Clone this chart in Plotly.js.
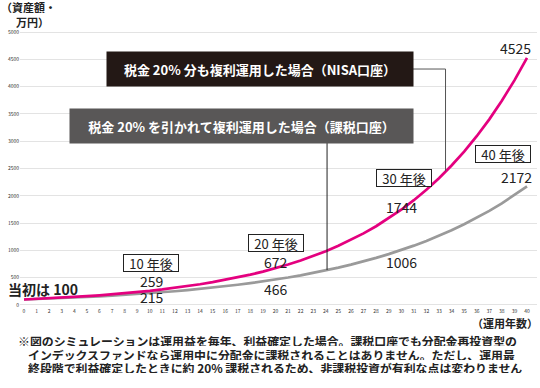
<!DOCTYPE html>
<html>
<head>
<meta charset="utf-8">
<script src="https://cdn.plot.ly/plotly-3.0.1.min.js"></script>
<style>html,body{margin:0;padding:0;background:#fff;}#chart{width:540px;height:388px;}</style>
</head>
<body>
<div id="chart"></div>
<script>
// Years of investment
const years = [0,1,2,3,4,5,6,7,8,9,10,11,12,13,14,15,16,17,18,19,20,21,22,23,24,25,26,27,28,29,30,31,32,33,34,35,36,37,38,39,40];
// NISA account (tax 20% also compounded), 万円
const nisaValues = [100,110,121,133.1,146.4,161.1,177.2,194.9,214.4,235.8,259.4,285.3,313.8,345.2,379.7,417.7,459.5,505.4,556.0,611.6,672.7,740.0,814.0,895.4,985.0,1083.5,1191.8,1311.0,1442.1,1586.3,1744.9,1919.4,2111.4,2322.5,2554.8,2810.2,3091.3,3400.4,3740.4,4114.5,4525.9];
// Taxable account (20% taxed each year), 万円
const taxedValues = [100,108,116.6,126.0,136.0,146.9,158.7,171.4,185.1,199.9,215.9,233.2,251.8,272.0,293.7,317.2,342.6,370.0,399.6,431.6,466.1,503.4,543.7,587.2,634.1,684.8,739.6,798.8,862.7,931.7,1006.3,1086.8,1173.7,1267.6,1369.0,1478.5,1596.8,1724.6,1862.5,2011.5,2172.5];
// Milestone labels
const milestoneYears = [10,20,30,40];
const milestoneLabels = ['10 年後','20 年後','30 年後','40 年後'];
const nisaLabels = ['259','672','1744','4525'];
const taxedLabels = ['215','466','1006','2172'];
const startLabel = '当初は 100';
const nisaName = '税金 20% 分も複利運用した場合（NISA口座）';
const taxedName = '税金 20% を引かれて複利運用した場合（課税口座）';
const yTitleLines = ['（資産額・','万円）'];
const xTitle = '（運用年数）';
const noteLines = [
  '※図のシミュレーションは運用益を毎年、利益確定した場合。課税口座でも分配金再投資型の',
  'インデックスファンドなら運用中に分配金に課税されることはありません。ただし、運用最',
  '終段階で利益確定したときに約 20% 課税されるため、非課税投資が有利な点は変わりません'
];

const F = '"Noto Sans CJK JP", "Noto Sans", sans-serif';

const traces = [
  {x: years, y: taxedValues, type: 'scatter', mode: 'lines', line: {color: '#9a9a9a', width: 2.7}, hoverinfo: 'skip'},
  {x: years, y: nisaValues, type: 'scatter', mode: 'lines', line: {color: '#e4007f', width: 2.7}, hoverinfo: 'skip'}
];

const ann = [];
const numFont = {family: F, size: 14, color: '#222'};
// per-milestone pixel offsets (layout only)
const nisaOff = [[2,10],[0,6],[0,3],[-12,10]];
const taxOff = [[2,-4],[0,-9],[0,-12],[-11,9]];
const boxOff = [[1,28],[0,25],[3,32],[-24,32]];
milestoneYears.forEach((yr, i) => {
  const idx = years.indexOf(yr);
  ann.push({x: yr, y: nisaValues[idx], xref: 'x', yref: 'y', text: nisaLabels[i], showarrow: false,
    font: numFont, xshift: nisaOff[i][0], yshift: nisaOff[i][1], height: 14});
  ann.push({x: yr, y: taxedValues[idx], xref: 'x', yref: 'y', text: taxedLabels[i], showarrow: false,
    font: numFont, xshift: taxOff[i][0], yshift: taxOff[i][1], height: 14});
  const refIdx = (i === 3) ? taxedValues[idx] : nisaValues[idx];
  ann.push({x: yr, y: refIdx, xref: 'x', yref: 'y', text: milestoneLabels[i], showarrow: false,
    font: {family: F, size: 13, color: '#222'}, bgcolor: '#fff', bordercolor: '#222', borderwidth: 1,
    borderpad: 0, width: 54, height: 16, xshift: boxOff[i][0], yshift: boxOff[i][1]});
});
ann.push({x: 0, y: nisaValues[0], xref: 'x', yref: 'y', text: startLabel, showarrow: false, xanchor: 'left',
  font: {family: F, size: 14, color: '#222', weight: 700}, xshift: -18, yshift: 11});
// Series legend boxes
ann.push({x: 18.77, y: 4322, xref: 'x', yref: 'y', text: '<b>' + nisaName + '</b>', showarrow: false,
  font: {family: F, size: 13, color: '#fff'}, bgcolor: '#231815', borderpad: 0, width: 306, height: 34});
ann.push({x: 17.3, y: 3278, xref: 'x', yref: 'y', text: '<b>' + taxedName + '</b>', showarrow: false,
  font: {family: F, size: 13, color: '#fff'}, bgcolor: '#595757', borderpad: 0, width: 343, height: 34});
// Axis titles
ann.push({x: 0, y: 1, xref: 'paper', yref: 'paper', yanchor: 'bottom', xanchor: 'left', text: '<b>' + yTitleLines[0] + '</b>',
  showarrow: false, font: {family: F, size: 11, color: '#222'}, xshift: -21, yshift: 15, height: 12});
ann.push({x: 0, y: 1, xref: 'paper', yref: 'paper', yanchor: 'bottom', xanchor: 'left', text: '<b>' + yTitleLines[1] + '</b>',
  showarrow: false, font: {family: F, size: 11, color: '#222'}, xshift: -6, yshift: 0, height: 12});
ann.push({x: 1, y: 0, xref: 'paper', yref: 'paper', yanchor: 'top', xanchor: 'right', text: '<b>' + xTitle + '</b>',
  showarrow: false, font: {family: F, size: 11, color: '#222'}, xshift: 3, yshift: -8, height: 12});
// Footnote
const noteX = [16, 26, 26];
const noteSize = [11.9, 11.9, 11.9];
noteLines.forEach((t, i) => {
  ann.push({x: 0, y: 0, xref: 'paper', yref: 'paper', xanchor: 'left', yanchor: 'middle', text: '<b>' + t + '</b>',
    showarrow: false, font: {family: F, size: noteSize[i], color: '#222'}, height: 12,
    xshift: noteX[i] - 20, yshift: -(340 - 307) - i * 13.6});
});

const shapes = [
  {type: 'path', xref: 'x', yref: 'y', path: 'M 30.93 4322 L 33.52 4322 L 33.52 2450', line: {color: '#555', width: 1}},
  {type: 'line', xref: 'x', yref: 'y', x0: 24.1, x1: 24.1, y0: 2967, y1: 640, line: {color: '#222', width: 1}}
];

const layout = {
  width: 540, height: 388,
  margin: {l: 20, r: 3, t: 30, b: 81},
  paper_bgcolor: '#fff', plot_bgcolor: '#fff',
  showlegend: false,
  xaxis: {range: [-0.318, 40.795], tickmode: 'array', tickvals: years, ticktext: years.map(String),
    showgrid: false, zeroline: false, showline: false, ticks: '', tickfont: {family: F, size: 5, color: '#333'}},
  yaxis: {range: [-37, 5037], tickmode: 'array', tickvals: [0,500,1000,1500,2000,2500,3000,3500,4000,4500,5000],
    showgrid: true, gridcolor: '#e3e3e3', gridwidth: 1, zeroline: false, showline: false, ticks: '',
    tickfont: {family: F, size: 5, color: '#333'}},
  annotations: ann,
  shapes: shapes
};

Plotly.newPlot('chart', traces, layout, {displayModeBar: false, staticPlot: true});
</script>
</body>
</html>
